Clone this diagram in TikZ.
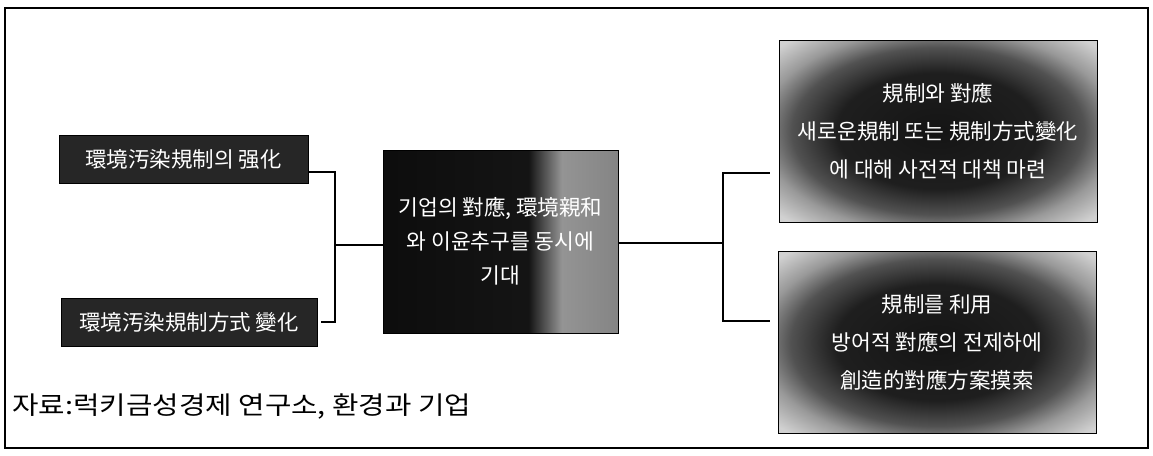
\documentclass[tikz,border=0pt]{standalone}
\usepackage{fontspec}
\newfontfamily\krfont{Noto Sans CJK KR}
\newfontfamily\srcfont[FakeStretch=1.15]{Noto Sans CJK KR}
\usetikzlibrary{positioning}

\pgfdeclareradialshading{fuzzy}{\pgfpoint{0bp}{0bp}}{%
  color(0bp)=(black!92); color(16bp)=(black!88); color(23bp)=(black!68);
  color(28bp)=(black!40); color(34bp)=(black!18); color(50bp)=(black!15)}
\pgfdeclarehorizontalshading{halfdark}{100bp}{%
  color(0bp)=(black!95); color(25bp)=(black!95); color(56bp)=(black!92);
  color(63bp)=(black!42); color(75bp)=(black!48); color(100bp)=(black!48)}

\begin{document}
\begin{tikzpicture}
            [%%%%%%%%%%%%%%%%%%%%%%%%%%%%%%%%%%%%%%%%%%%%%%%%%%%%%%%%%%
                x=1pt,y=-1pt,
                boxtext/.style={text=white,align=center,inner sep=0pt,
                                font=\krfont\fontsize{21.5}{38}\selectfont},
                darkbox/.style={boxtext,draw=black,thick,fill=black!85,
                                minimum height=48pt},
                fuzzbox/.style={boxtext,draw=black,thick,shade,shading=fuzzy,
                                minimum width=318pt,minimum height=182pt},
                midbox/.style={boxtext,draw=black,thick,shade,shading=halfdark,
                               minimum width=235pt,minimum height=183pt,
                               font=\krfont\fontsize{21.5}{34}\selectfont},
                link/.style={line width=2.2pt},
                frame/.style={line width=2.4pt}
            ]%%%%%%%%%%%%%%%%%%%%%%%%%%%%%%%%%%%%%%%%%%%%%%%%%%%%%%%%%%
            \useasboundingbox (0,0) rectangle (1153,455);
            \draw[frame] (5,8) rectangle (1148,448);

            \node[darkbox,minimum width=249pt] (strong) at (183.5,159) {環境汚染規制의 强化};
            \node[darkbox,minimum width=256pt] (change) at (189,322) {環境汚染規制方式 變化};
            \node[midbox] (firm) at (500.5,241.5) {기업의 對應, 環境親和\\와 이윤추구를 동시에\\기대};
            \node[fuzzbox] (prepare) at (938,131) {規制와 對應\\새로운規制 또는 規制方式變化\\에 대해 사전적 대책 마련};
            \node[fuzzbox] (create) at (937,342.5) {規制를 利用\\방어적 對應의 전제하에\\創造的對應方案摸索};

            \node[anchor=west,font=\srcfont\fontsize{25}{28}\selectfont] (source) at (9,406)
                 {자료:럭키금성경제 연구소, 환경과 기업};

            \coordinate (lsplit) at (335,245);
            \coordinate (rsplit) at (723,243);

            \draw [link] ([yshift=-13pt]strong.east) -| (lsplit) |- ([xshift=4pt]change.east);
            \draw [link] (lsplit) -- (lsplit -| firm.west);
            \draw [link] (firm.east |- rsplit) -- (rsplit);
            \draw [link] ([xshift=-9pt,yshift=-42pt]prepare.west) -| (rsplit)
                  |- ([xshift=-8pt,yshift=21.5pt]create.west);
        \end{tikzpicture}
\end{document}
